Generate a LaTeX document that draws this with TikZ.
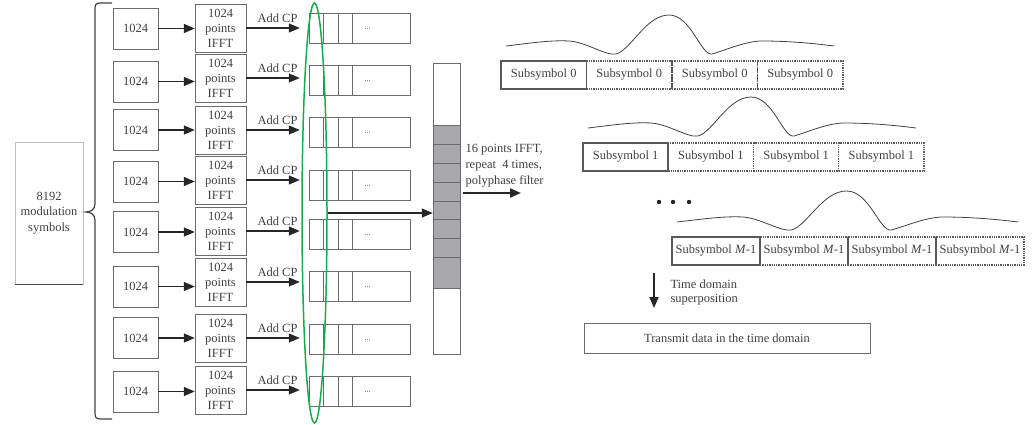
\documentclass[tikz,border=0pt]{standalone}
\usepackage{fontspec}
\setmainfont{Liberation Serif}
\usetikzlibrary{arrows.meta, positioning, shapes.geometric, calc}
\definecolor{boxline}{gray}{0.42}
\definecolor{txt}{gray}{0.25}
\definecolor{cellgray}{RGB}{168,168,172}
\definecolor{selgreen}{RGB}{25,170,75}
\tikzset{
  every node/.style={font=\fontsize{12.5}{15}\selectfont, text=txt},
  numbox/.style={draw=boxline, minimum width=45, minimum height=41, inner sep=0},
  fftbox/.style={draw=boxline, minimum width=51, minimum height=48, inner sep=0, align=center},
  cpbox/.style={draw=boxline, minimum width=101, minimum height=30, inner sep=0},
  subsolid/.style={draw=black!65, line width=1.6, minimum height=28, inner sep=0, outer sep=0},
  subdot/.style={draw=black!65, densely dotted, line width=1.3, minimum height=28, inner sep=0, outer sep=0},
  arr/.style={-{Triangle[length=11pt,width=9pt]}, line width=1.3, black!85},
  wave/.pic={
    \draw[black!75, line width=0.8]
      (0,0) .. controls (25,-3) and (45,-6) .. (63,-5)
      .. controls (80,-4) and (100,10) .. (110,8)
      .. controls (125,4) and (140,-31) .. (163,-31)
      .. controls (185,-31) and (195,10) .. (206,8)
      .. controls (220,4) and (240,-5) .. (256,-5)
      .. controls (280,-5) and (305,-3) .. (328,0);
  }
}

\begin{document}
\begin{tikzpicture}[x=1pt, y=-1pt]
  \useasboundingbox (0,0) rectangle (1035,425);

  % SOURCE SYMBOLS
  \node[draw=black!25, minimum width=68, minimum height=142, inner sep=0, align=center,
        font=\fontsize{12.5}{15.5}\selectfont] (mod) at (49,213) {8192\\modulation\\symbols};
  \draw[black!70] (mod.south west) -- (mod.south east);
  \draw[black!75, line width=1.2]
    (112,3) -- (100,3) .. controls (96,3) and (95,5) .. (95,9) -- (95,204)
    .. controls (95,210) and (90,212) .. (86,212)
    .. controls (90,212) and (95,214) .. (95,220) -- (95,413)
    .. controls (95,417) and (96,419) .. (100,419) -- (112,419);

  % BRANCHES
  \foreach \i/\ya/\yb/\yc in {1/28.5/28/28, 2/81.5/78/80.5, 3/130/130/132.5, 4/181.5/180/185,
                              5/232/231/234.5, 6/286.5/282/286.5, 7/338/338/339.5, 8/391.5/390/391.5}{
    \node[numbox] (d\i) at (135.5,\ya) {1024};
    \node[fftbox] (f\i) at (220.5,\yb) {1024\\points\\IFFT};
    \node[cpbox] (c\i) at (359.5,\yc) {};
    \foreach \d in {14,29,43}
      \draw[boxline] ([xshift=\d]c\i.north west) -- ([xshift=\d]c\i.south west);
    \node[font=\footnotesize] (dots\i) at ([xshift=8,yshift=-1]c\i.center) {...};
    \draw[arr] (d\i.east) -- (d\i.east -| f\i.west);
    \draw[arr, shorten >=9] (f\i.east) -- node[above=1pt] {Add CP} (f\i.east -| c\i.west);
  }

  % SELECTED COLUMN
  \node[draw=selgreen, line width=1.5, ellipse, minimum width=25, minimum height=420, inner sep=0] (sel) at (314.5,213) {};

  \fill[cellgray] (433,125) rectangle (460,288);
  \foreach \yy in {125,144,163,182,201,219,238,257,288}
    \draw[boxline] (433,\yy) -- (460,\yy);
  \node[draw=boxline, minimum width=27, minimum height=291, inner sep=0] (col) at (446.5,208.5) {};
  \draw[arr] (sel.east) -- (sel.east -| col.west);

  \node[align=left, anchor=west, font=\fontsize{12.5}{16}\selectfont] (rep) at (462,166)
    {16 points IFFT,\\repeat\ \ 4 times,\\polyphase filter};
  \coordinate (ra) at (463,193);
  \coordinate (rb) at (521,193);
  \draw[arr, line width=2] (ra) -- (rb);

  % SUBSYMBOLS
  \foreach \r/\x/\y/\w/\lab/\k in {0/501/75/85.5/0/1.0, 1/583/157/85.25/1/1.0, m/672/251/88/{\textit{M}-1}/1.04}{
    \node[subsolid, minimum width=\w, anchor=west] (s\r-a) at (\x,\y) {Subsymbol \lab};
    \node[subdot, minimum width=\w, right=0pt of s\r-a] (s\r-b) {Subsymbol \lab};
    \node[subdot, minimum width=\w, right=0pt of s\r-b] (s\r-c) {Subsymbol \lab};
    \node[subdot, minimum width=\w, right=0pt of s\r-c] (s\r-d) {Subsymbol \lab};
    \pic[xscale=\k] at ($(s\r-a.west)+(5,-29)$) {wave};
  }
  \foreach \xx in {659,673,689}
    \fill[black!85] (\xx,202) circle (2.2);

  % OUTPUT
  \coordinate (ta) at (654,273);
  \coordinate (tb) at (654,308);
  \draw[arr, line width=2] (ta) -- (tb);
  \node[align=left, anchor=west, font=\fontsize{12.5}{14}\selectfont] (sup) at (667,292)
    {Time domain\\superposition};
  \node[draw=boxline, minimum width=286, minimum height=30, inner sep=0] (tx) at (727,338)
    {Transmit data in the time domain};
\end{tikzpicture}
\end{document}
